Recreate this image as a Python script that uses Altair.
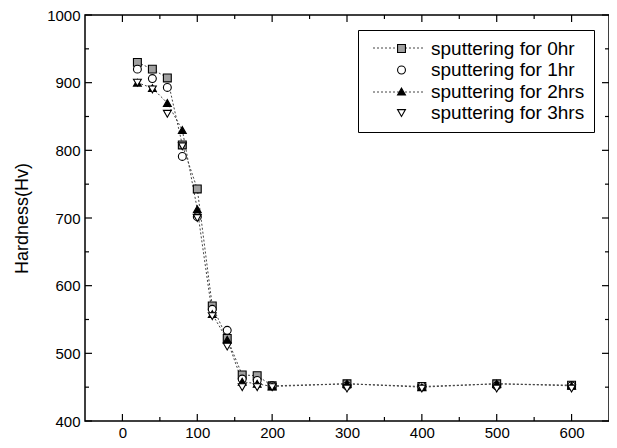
import altair as alt
import pandas as pd

x_vals = [20, 40, 60, 80, 100, 120, 140, 160, 180, 200, 300, 400, 500, 600]
h_0hr = [930, 920, 907, 808, 743, 570, 522, 468, 467, 452, 455, 451, 455, 453]
h_1hr = [920, 906, 893, 791, 702, 565, 534, 462, 460, 452, 452, 451, 452, 452]
h_2hrs = [900, 892, 870, 830, 713, 558, 520, 458, 455, 451, 455, 450, 455, 452]
h_3hrs = [900, 890, 854, 806, 700, 555, 510, 450, 450, 450, 448, 448, 448, 448]
series = ["sputtering for 0hr", "sputtering for 1hr", "sputtering for 2hrs", "sputtering for 3hrs"]

x_major = [0, 100, 200, 300, 400, 500, 600]
x_minor = [50, 150, 250, 350, 450, 550]
y_major = [400, 500, 600, 700, 800, 900, 1000]
y_minor = [450, 550, 650, 750, 850, 950]

rows = []
for name, vals in zip(series, [h_0hr, h_1hr, h_2hrs, h_3hrs]):
    for xv, yv in zip(x_vals, vals):
        rows.append({"x": xv, "h": yv, "series": name})
df = pd.DataFrame(rows)

W, H = 524, 406
FONT = "Liberation Sans"
xs = alt.Scale(domain=[-50, 650], nice=False, zero=False)
ys = alt.Scale(domain=[400, 1000], nice=False, zero=False)

X = alt.X("x:Q", scale=xs, axis=alt.Axis(values=x_major, tickSize=0, labelPadding=4, grid=False, title=None))
Y = alt.Y("h:Q", scale=ys, axis=alt.Axis(values=y_major, tickSize=0, labelPadding=5, grid=False,
                                         format="d", title="Hardness(Hv)", titlePadding=15))

lines = alt.Chart(df).transform_filter(
    alt.FieldOneOfPredicate(field="series", oneOf=[series[0], series[2]])
).mark_line(strokeDash=[2, 2], strokeWidth=1, color="#444444").encode(
    x=X, y=Y, detail="series:N"
)

leg = alt.Legend(title=None, symbolStrokeColor="black", symbolStrokeWidth=1.1)
pts = alt.Chart(df).mark_point(filled=False, size=62, strokeWidth=1.1, opacity=1).encode(
    x=X, y=Y,
    shape=alt.Shape("series:N", scale=alt.Scale(domain=series, range=["square", "circle", "triangle-up", "triangle-down"]),
                    legend=leg),
    fill=alt.Fill("series:N", scale=alt.Scale(domain=series, range=["#a0a0a0", "white", "black", "white"]),
                  legend=leg),
    stroke=alt.Stroke("series:N", scale=alt.Scale(domain=series, range=["black", "black", "black", "black"]),
                      legend=leg),
)

def tick_layer(vals, axis, length):
    d = pd.DataFrame({"v": vals})
    if axis == "x":
        bot = alt.Chart(d).mark_rule(color="black", strokeWidth=1.2).encode(
            x=alt.X("v:Q", scale=xs), y=alt.value(H), y2=alt.value(H - length))
        top = alt.Chart(d).mark_rule(color="black", strokeWidth=1.2).encode(
            x=alt.X("v:Q", scale=xs), y=alt.value(0), y2=alt.value(length))
    else:
        bot = alt.Chart(d).mark_rule(color="black", strokeWidth=1.2).encode(
            y=alt.Y("v:Q", scale=ys), x=alt.value(0), x2=alt.value(length))
        top = alt.Chart(d).mark_rule(color="black", strokeWidth=1.2).encode(
            y=alt.Y("v:Q", scale=ys), x=alt.value(W), x2=alt.value(W - length))
    return [bot, top]

ticks = (tick_layer(x_major, "x", 7) + tick_layer(x_minor, "x", 4)
         + tick_layer(y_major, "y", 7) + tick_layer(y_minor, "y", 4))

# dotted line segments behind the legend symbols of the two line-connected series
def leg_line(py):
    return alt.Chart(pd.DataFrame({"k": [0]})).mark_rule(
        strokeDash=[2, 2], strokeWidth=1, color="#444444"
    ).encode(x=alt.value(288), x2=alt.value(340), y=alt.value(py))

chart = alt.layer(*ticks, lines, leg_line(33), leg_line(77), pts).resolve_scale(shape="shared", fill="shared").properties(
    width=W, height=H,
    autosize=alt.AutoSizeParams(type="none"),
    padding={"left": 77, "top": 7, "right": 0, "bottom": 19},
).configure_view(
    stroke="black", strokeWidth=1.5
).configure_axis(
    domain=False, labelFont=FONT, labelFontSize=15, labelColor="black",
    titleFont=FONT, titleFontSize=18, titleFontWeight="normal", titleColor="black"
).configure_legend(
    orient="none", legendX=273, legendY=15, strokeColor="black",
    padding=9, labelFont=FONT, labelFontSize=19, labelColor="black",
    symbolSize=62, rowPadding=1.5, labelOffset=20, symbolOffset=25, cornerRadius=0,
    labelLimit=400
)

chart.save("out.html", embed_options={"renderer": "svg", "actions": False})
